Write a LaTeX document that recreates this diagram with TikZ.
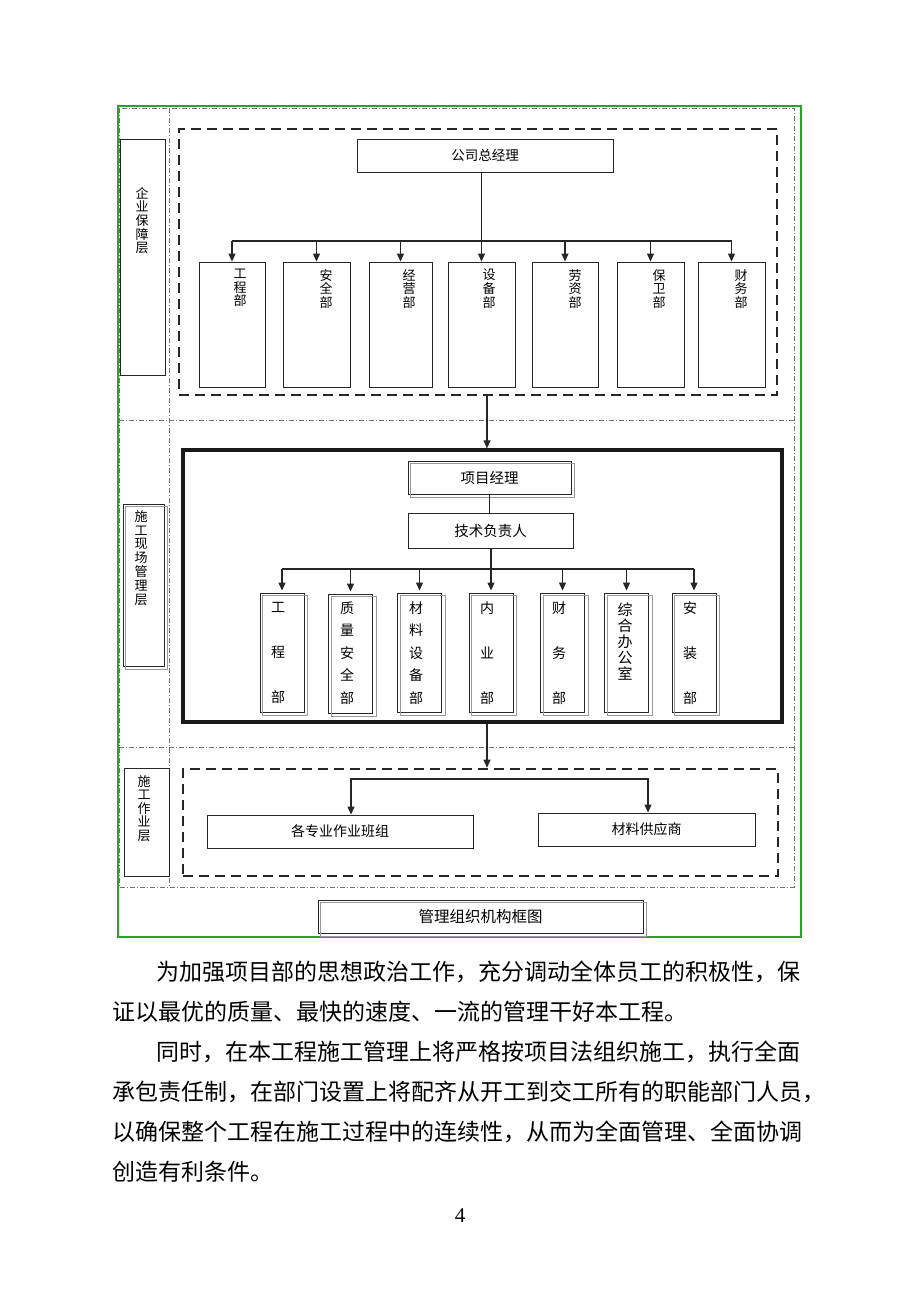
\documentclass[tikz,border=0pt]{standalone}
\usepackage{fontspec}
\setmainfont{Liberation Serif}
\newfontfamily\cjk{Noto Sans CJK SC}
\usetikzlibrary{arrows.meta,calc}
\definecolor{framegreen}{RGB}{40,165,40}
\begin{document}
\begin{tikzpicture}[x=1pt,y=-1pt,
  box/.style={draw=black!85, line width=0.9pt, inner sep=0pt},
  lbl/.style={font=\cjk\fontsize{13.5}{14}\selectfont},
  mid/.style={font=\cjk\fontsize{14.5}{15}\selectfont},
  vt/.style={font=\cjk\fontsize{13}{13.6}\selectfont, align=center, inner sep=0pt, anchor=north},
  vtw/.style={font=\cjk\fontsize{14}{45}\selectfont, align=center, inner sep=0pt},
  vtn/.style={font=\cjk\fontsize{14}{22.5}\selectfont, align=center, inner sep=0pt},
  tdash/.style={draw=black!85, line width=2.6pt, dash pattern=on 10pt off 6pt, inner sep=0pt},
  solidframe/.style={draw=black!90, line width=3.2pt, inner sep=0pt},
  dd/.style={draw=black!55, line width=0.7pt, dash pattern=on 5pt off 2pt on 1pt off 2pt},
  shadowline/.style={draw=black!40, line width=0.9pt},
  line/.style={draw=black!85, line width=1.1pt},
  arr/.style={line, -{Triangle[length=8pt,width=7pt]}},
  dbox/.style={box, minimum height=125},
  ebox/.style={box, minimum width=44, minimum height=119},
  body/.style={font=\cjk\fontsize{23}{23}\selectfont, inner sep=0pt, anchor=west}
]
\useasboundingbox[fill=white] (0,0) rectangle (920,1302);

% ---- frame and grid ----
\draw[draw=framegreen, line width=1.6pt] (118,106) rectangle (801,937);
\draw[dd] (119,108) rectangle (794,887);
\draw[dd] (119,420) -- (794,420);
\draw[dd] (119,747) -- (794,747);
\draw[dd] (169,108) -- (169,887);

% ---- layer 1 ----
\node[tdash, minimum width=598, minimum height=266] (L1) at (478,262) {};
\node[box, lbl, minimum width=256, minimum height=33] (gm) at (485,155.5) {公司总经理};

\node[dbox, minimum width=66] (d1) at (232,324.5) {};
\node[dbox, minimum width=67] (d2) at (316.5,324.5) {};
\node[dbox, minimum width=63] (d3) at (400.5,324.5) {};
\node[dbox, minimum width=67] (d4) at (481.5,324.5) {};
\node[dbox, minimum width=66] (d5) at (565,324.5) {};
\node[dbox, minimum width=67] (d6) at (650.5,324.5) {};
\node[dbox, minimum width=67] (d7) at (731.5,324.5) {};
\node[vt] (d1t) at (240,269) {工\\程\\部};
\node[vt] (d2t) at (326,269) {安\\全\\部};
\node[vt] (d3t) at (409,269) {经\\营\\部};
\node[vt] (d4t) at (489,269) {设\\备\\部};
\node[vt] (d5t) at (575,269) {劳\\资\\部};
\node[vt] (d6t) at (659,269) {保\\卫\\部};
\node[vt] (d7t) at (741,269) {财\\务\\部};

\coordinate (bus1) at (0,241);
\draw[line] (d1.north |- bus1) -- (d7.north |- bus1);
\draw[arr] (gm.south -| d4.north) -- (d4.north);
\foreach \d in {d1,d2,d3,d5,d6,d7}{
  \draw[arr] (\d.north |- bus1) -- (\d.north);
}

\node[box, minimum width=45, minimum height=236] (s1) at (142.5,257) {};
\node[vt] (s1t) at (142,187) {企\\业\\保\\障\\层};

% ---- layer 2 ----
\node[solidframe, minimum width=599, minimum height=272] (P) at (482.5,586) {};
\coordinate (c1) at (487,0);
\draw[arr] (L1.south -| c1) -- (P.north -| c1);

\node[box, mid, minimum width=163, minimum height=33] (pm) at (489.5,477.5) {项目经理};
\draw[shadowline] ($(pm.north west)+(3,3)$) rectangle ($(pm.south east)+(3,3)$);
\node[box, mid, minimum width=165, minimum height=35] (tech) at (490.5,530.5) {技术负责人};
\draw[line] (pm.south) -- (pm.south |- tech.north);

\node[ebox] (e1) at (282,652.5) {};
\node[ebox] (e2) at (350.5,653.5) {};
\node[ebox] (e3) at (419.5,652.5) {};
\node[ebox] (e4) at (491,652.5) {};
\node[ebox] (e5) at (562.5,652.5) {};
\node[ebox] (e6) at (626.5,652.5) {};
\node[ebox] (e7) at (694,652.5) {};
\foreach \e in {e1,e2,e3,e4,e5,e6,e7}{
  \draw[shadowline] ($(\e.north west)+(3,3)$) rectangle ($(\e.south east)+(3,3)$);
}
\node[vtw] (e1t) at (278,653) {工\\程\\部};
\node[vtn] (e2t) at (347,653) {质\\量\\安\\全\\部};
\node[vtn] (e3t) at (416,653) {材\\料\\设\\备\\部};
\node[vtw] (e4t) at (487,653) {内\\业\\部};
\node[vtw] (e5t) at (559,653) {财\\务\\部};
\node[font=\cjk\fontsize{15}{16}\selectfont, align=center, inner sep=0pt] (e6t) at (625,642) {综\\合\\办\\公\\室};
\node[vtw] (e7t) at (690,653) {安\\装\\部};

\coordinate (bus2) at (0,569);
\draw[line] (tech.south -| e4.north) -- (e4.north |- bus2);
\draw[line] (e1.north |- bus2) -- (e7.north |- bus2);
\foreach \e in {e1,e2,e3,e4,e5,e6,e7}{
  \draw[arr] (\e.north |- bus2) -- ($(\e.north)+(0,-2)$);
}

\node[box, minimum width=41, minimum height=162] (s2) at (143.5,585) {};
\draw[shadowline] ($(s2.north west)+(3,3)$) rectangle ($(s2.south east)+(3,3)$);
\node[vt, font=\cjk\fontsize{13}{13.9}\selectfont] (s2t) at (141,510) {施\\工\\现\\场\\管\\理\\层};

% ---- layer 3 ----
\node[tdash, minimum width=595, minimum height=107] (L3) at (480.5,822.5) {};
\draw[arr] (P.south -| c1) -- (L3.north -| c1);
\node[box, mid, font=\cjk\fontsize{14}{14}\selectfont, minimum width=266, minimum height=33] (w1) at (340,831.5) {各专业作业班组};
\node[box, mid, font=\cjk\fontsize{14}{14}\selectfont, minimum width=217, minimum height=33] (w2) at (646.5,829.5) {材料供应商};
\coordinate (w1in) at ($(w1.north)+(11,0)$);
\coordinate (w2in) at ($(w2.north)+(1.5,0)$);
\coordinate (bus3) at (0,779);
\draw[line, {Triangle[length=8pt,width=7pt]}-{Triangle[length=8pt,width=7pt]}]
  (w1in) -- (w1in |- bus3) -- (w2in |- bus3) -- (w2in);

\node[box, minimum width=45, minimum height=108] (s3) at (146.5,822) {};
\node[vt] (s3t) at (144,775) {施\\工\\作\\业\\层};

% ---- title ----
\node[box, font=\cjk\fontsize{15.5}{16}\selectfont, minimum width=325, minimum height=33] (ttl) at (480.5,916.5) {管理组织机构框图};
\draw[shadowline] ($(ttl.north west)+(3,3)$) rectangle ($(ttl.south east)+(3,3)$);

% ---- body text ----
\node[body] (t1) at (156,972) {为加强项目部的思想政治工作，充分调动全体员工的积极性，保};
\node[body] (t2) at (112,1012) {证以最优的质量、最快的速度、一流的管理干好本工程。};
\node[body] (t3) at (156,1052) {同时，在本工程施工管理上将严格按项目法组织施工，执行全面};
\node[body] (t4) at (112,1092) {承包责任制，在部门设置上将配齐从开工到交工所有的职能部门人员，};
\node[body] (t5) at (112,1132) {以确保整个工程在施工过程中的连续性，从而为全面管理、全面协调};
\node[body] (t6) at (112,1172) {创造有利条件。};
\node[font=\fontsize{21}{21}\selectfont, inner sep=0pt] (pg) at (460,1216) {4};
\end{tikzpicture}
\end{document}
